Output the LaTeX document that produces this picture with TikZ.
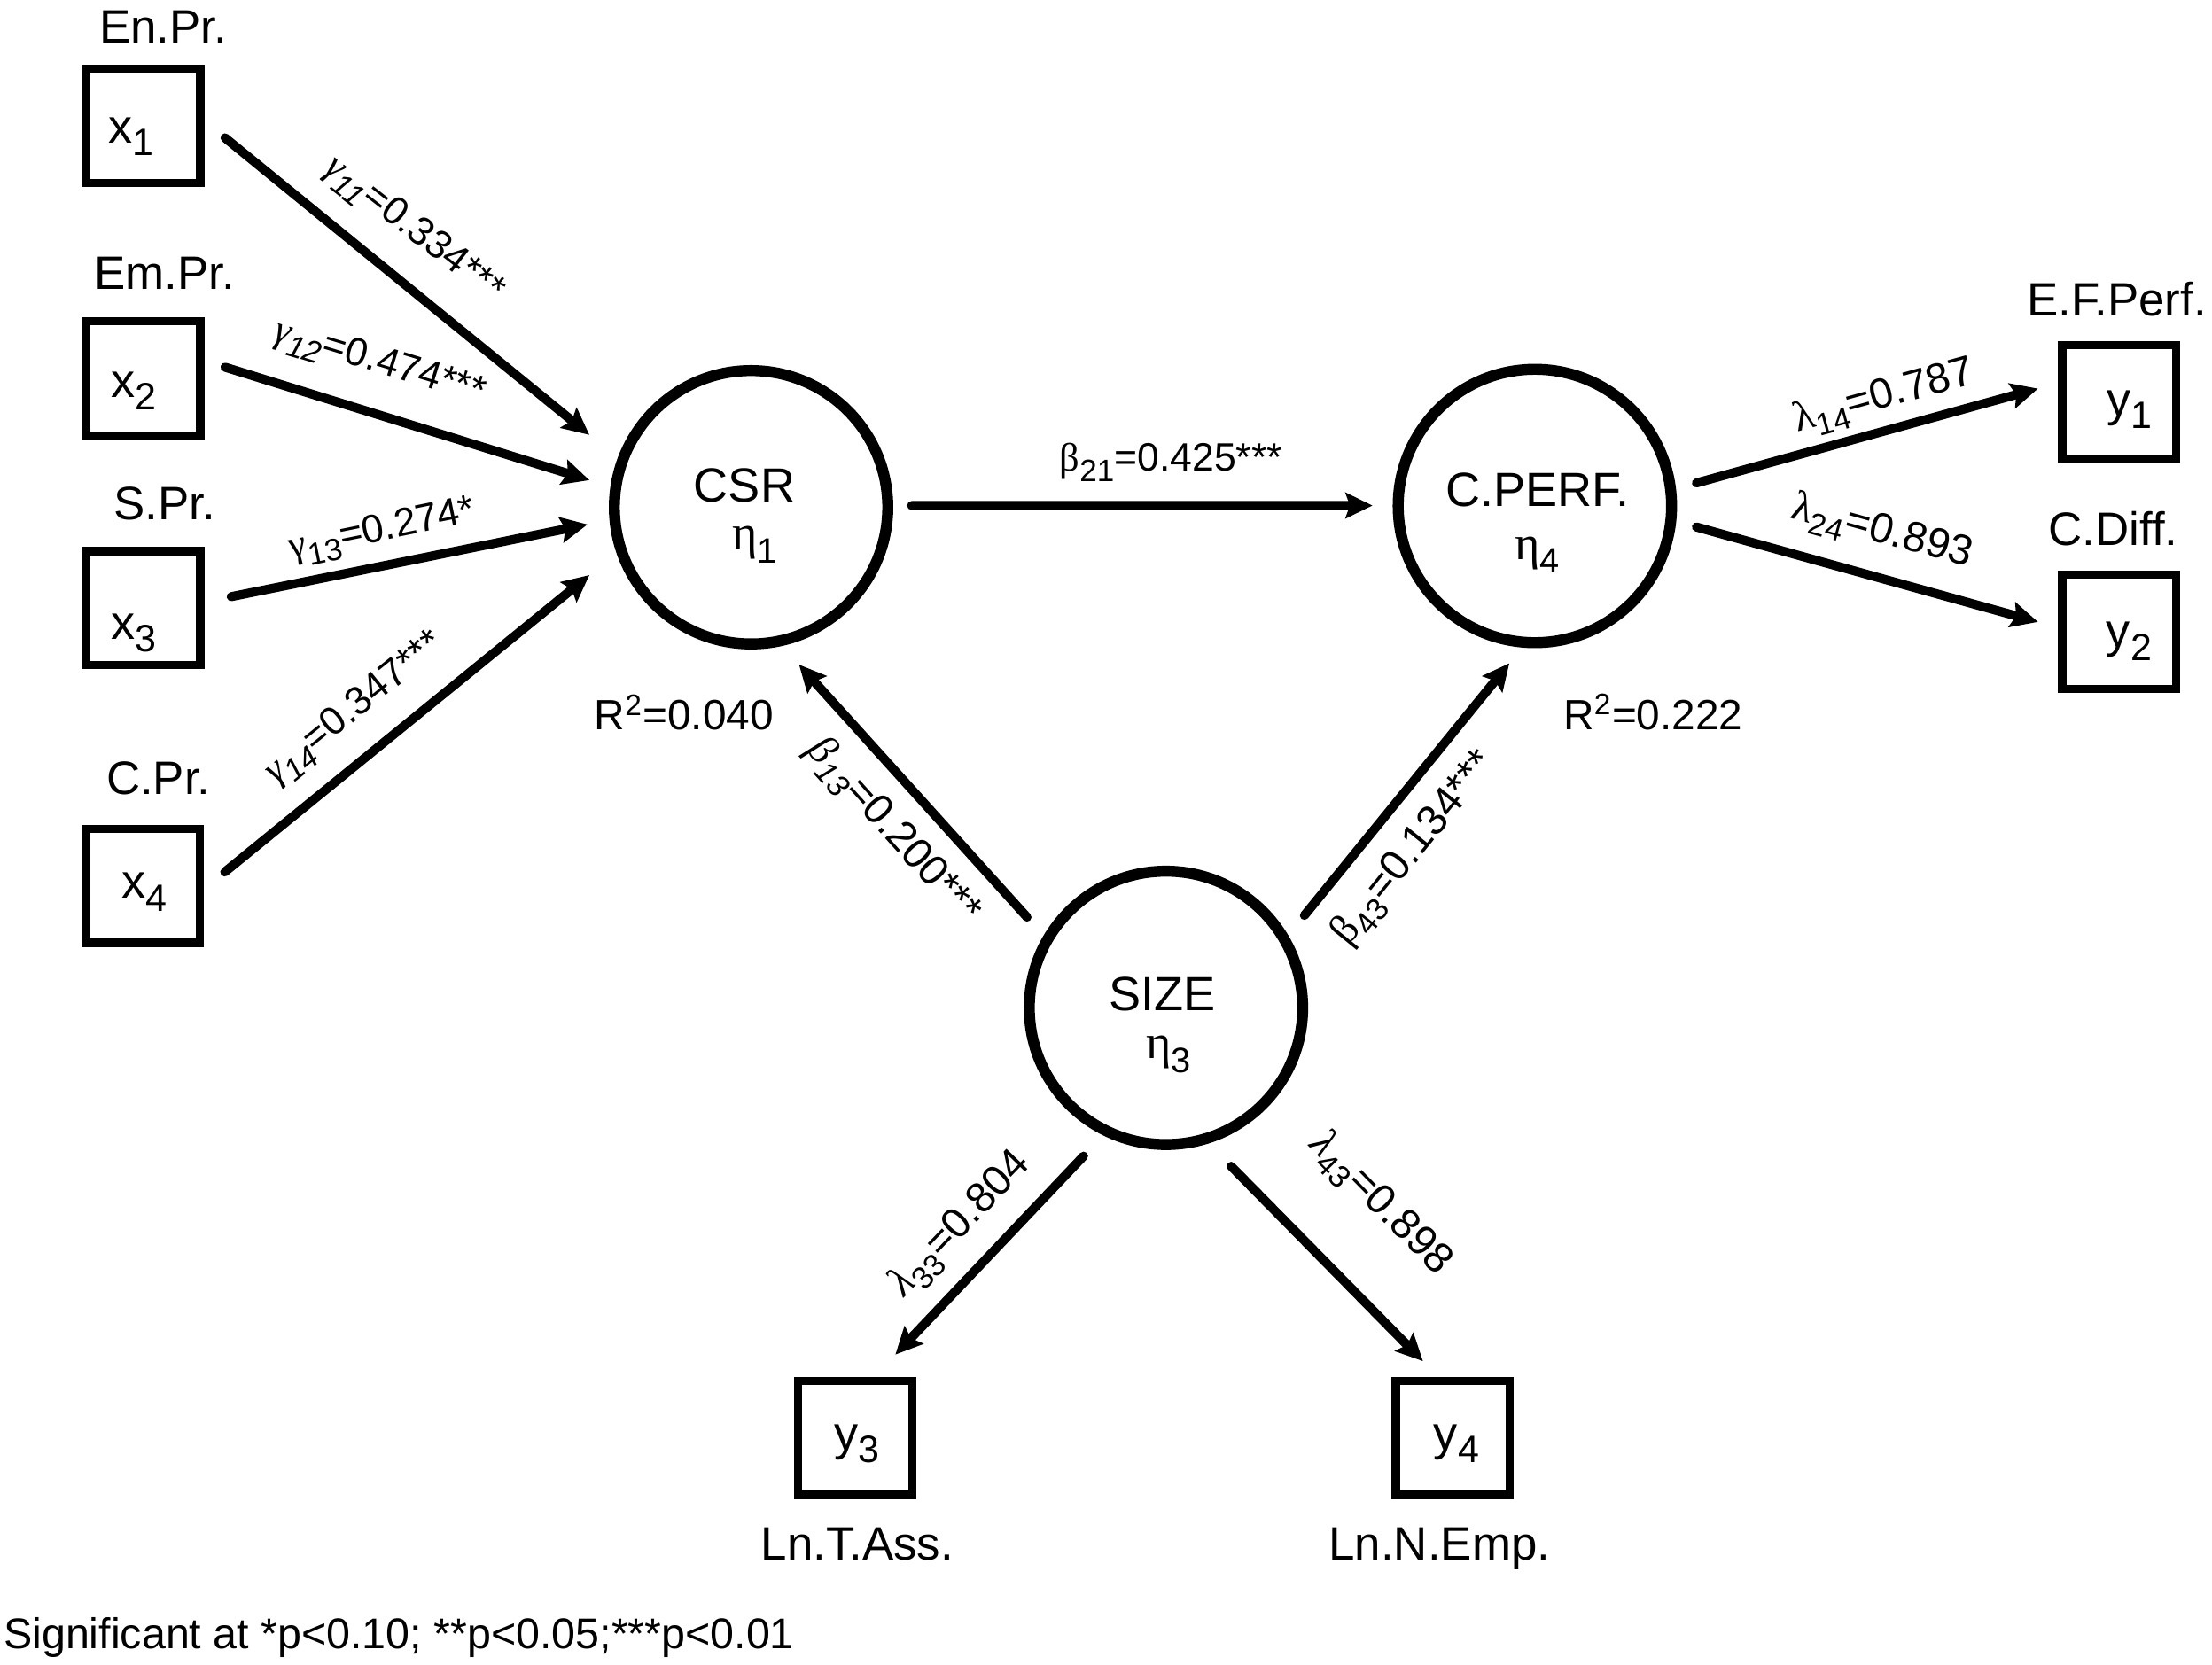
\documentclass[tikz,border=0pt]{standalone}
\usepackage{fontspec}
\setmainfont{Liberation Sans}
\newfontfamily\greekfont{Liberation Serif}
\usetikzlibrary{arrows.meta}
\newcommand{\gup}[1]{{\greekfont #1}}
\newcommand{\git}[1]{{\greekfont\itshape #1}}
\newcommand{\lsub}[1]{\raisebox{-3.6pt}{\fontsize{11}{11}\selectfont #1}}
\newcommand{\lsubi}[1]{\raisebox{-3.6pt}{\fontsize{11}{11}\selectfont\itshape #1}}
\newcommand{\bsub}[1]{\raisebox{-4.5pt}{\fontsize{13.5}{13.5}\selectfont #1}}
\newcommand{\esub}[1]{\raisebox{-4.8pt}{\fontsize{12.5}{12.5}\selectfont #1}}
% box text placed with a horizontal and vertical offset from the box centre
\newcommand{\btx}[3]{\raisebox{#2}[0pt][0pt]{\makebox[0pt]{\hspace*{#1}#3}}}
\begin{document}
\begin{tikzpicture}[x=0.5pt,y=-0.5pt,
  obs/.style={draw, line width=2.9pt, minimum size=40.45pt, inner sep=0pt, font=\fontsize{17}{20}\selectfont},
  lat/.style={draw, circle, line width=3.9pt, minimum size=96.9pt, inner sep=0pt},
  ntxt/.style={inner sep=0pt, anchor=base, font=\fontsize{17}{20}\selectfont},
  vtxt/.style={inner sep=0pt, anchor=base, font=\fontsize{16.6}{19}\selectfont},
  elab/.style={inner sep=0pt, font=\fontsize{14}{16}\selectfont},
  elabb/.style={inner sep=0pt, font=\fontsize{15}{17}\selectfont},
  rtxt/.style={inner sep=0pt, anchor=base west, font=\fontsize{15}{18}\selectfont},
  arr/.style={line width=3.2pt, line cap=round, -{Stealth[length=9.5pt,width=9pt,inset=1.5pt]}},
]
\useasboundingbox (0,0) rectangle (1568,1180);

% observed variables
\node[obs] (x1) at (101.5,89.2) {\btx{-8.3pt}{-6.15pt}{x\bsub{1}}};
\node[obs] (x2) at (101.5,268.2) {\btx{-6.7pt}{-6.8pt}{x\bsub{2}}};
\node[obs] (x3) at (101.5,431.2) {\btx{-6.7pt}{-10.9pt}{x\bsub{3}}};
\node[obs] (x4) at (101.3,628) {\btx{1.3pt}{-4.4pt}{x\bsub{4}}};
\node[obs] (y1) at (1502.2,285.3) {\btx{7.2pt}{-4.8pt}{y\bsub{1}}};
\node[obs] (y2) at (1502.2,447.9) {\btx{7pt}{-5.6pt}{y\bsub{2}}};
\node[obs] (y3) at (606.2,1019.3) {\btx{1pt}{-4.4pt}{y\bsub{3}}};
\node[obs] (y4) at (1029.9,1019.3) {\btx{2.5pt}{-4.4pt}{y\bsub{4}}};

% variable names
\node[vtxt] (nx1) at (115.7,30.5) {En.Pr.};
\node[vtxt] (nx2) at (116.8,205) {Em.Pr.};
\node[vtxt] (nx3) at (116.8,368.6) {S.Pr.};
\node[vtxt] (nx4) at (112.3,563.3) {C.Pr.};
\node[vtxt] (ny1) at (1500.4,224) {E.F.Perf.};
\node[vtxt] (ny2) at (1498,386.8) {C.Diff.};
\node[vtxt] (ny3) at (607.7,1106) {Ln.T.Ass.};
\node[vtxt] (ny4) at (1020.4,1106) {Ln.N.Emp.};

% latent variables
\node[lat] (csr) at (532.4,359.6) {};
\node[lat] (cperf) at (1088,358.7) {};
\node[lat] (size) at (826.5,714.5) {};
\node[ntxt] (tcsr) at (527.7,356) {CSR};
\node[ntxt] (ecsr) at (535,389.4) {\gup{η}\esub{1}};
\node[ntxt] (tcp) at (1089.8,359.1) {C.PERF.};
\node[ntxt] (ecp) at (1089.6,396.4) {\gup{η}\esub{4}};
\node[ntxt] (tsz) at (823.9,716.2) {SIZE};
\node[ntxt] (esz) at (828.4,750.6) {\gup{η}\esub{3}};

% R squared
\node[rtxt] (r1) at (421,517.5) {R\textsuperscript{2}=0.040};
\node[rtxt] (r2) at (1108,517) {R\textsuperscript{2}=0.222};

% arrows
\draw[arr] ([shift={(58,8.5)}]x1.center) -- ([shift={(-114.6,-51.3)}]csr.center);
\draw[arr] ([shift={(58,-7.9)}]x2.center) -- ([shift={(-114.6,-19.2)}]csr.center);
\draw[arr] ([shift={(62.4,-8.2)}]x3.center) -- ([shift={(-115.9,12.2)}]csr.center);
\draw[arr] ([shift={(58,-9.8)}]x4.center) -- ([shift={(-114.6,48.1)}]csr.center);
\draw[arr] ([shift={(113.8,-1.2)}]csr.center) -- ([shift={(-115.1,-0.3)}]cperf.center);
\draw[arr] ([shift={(114.5,-16.3)}]cperf.center) -- ([shift={(-57.6,-9.8)}]y1.center);
\draw[arr] ([shift={(114.5,14.9)}]cperf.center) -- ([shift={(-57.6,-7)}]y2.center);
\draw[arr] ([shift={(-98.5,-64.3)}]size.center) -- ([shift={(34,111.6)}]csr.center);
\draw[arr] ([shift={(98.1,-65.5)}]size.center) -- ([shift={(-18.1,111.5)}]cperf.center);
\draw[arr] ([shift={(-58.4,105.1)}]size.center) -- ([shift={(28.5,-59)}]y3.center);
\draw[arr] ([shift={(46.2,112.3)}]size.center) -- ([shift={(-21.2,-54.3)}]y4.center);

% path labels
\node[elab, rotate=-38] (l1) at (293,163.5) {\git{γ}\lsubi{11}=0.334***};
\node[elab, rotate=-17] (l2) at (269,258) {\git{γ}\lsubi{12}=0.474***};
\node[elab, rotate=11.5] (l3) at (271,377) {\gup{γ}\lsub{13}=0.274*};
\node[elab, rotate=39] (l4) at (252,503) {\git{γ}\lsubi{14}=0.347***};
\node[elab, anchor=base] (l5) at (830,334) {\gup{β}\lsub{21}=0.425***};
\node[elabb, rotate=15.5] (l6) at (1335.6,282.2) {\gup{λ}\lsub{14}=0.787};
\node[elabb, rotate=-15.5] (l7) at (1334,377.8) {\gup{λ}\lsub{24}=0.893};
\node[elabb, rotate=-48] (l8) at (632.5,589.8) {\git{β}\lsubi{13}=0.200***};
\node[elabb, rotate=51] (l9) at (1003,602) {\gup{β}\lsub{43}=0.134***};
\node[elabb, rotate=46] (l10) at (681.4,868.3) {\git{λ}\lsub{33}=0.804};
\node[elabb, rotate=-45.5] (l11) at (978,853.9) {\git{λ}\lsub{43}=0.898};

% footnote
\node[rtxt, font=\fontsize{15.2}{18}\selectfont] (note) at (2.2,1169) {Significant at *p<0.10; **p<0.05;***p<0.01};
\end{tikzpicture}
\end{document}
